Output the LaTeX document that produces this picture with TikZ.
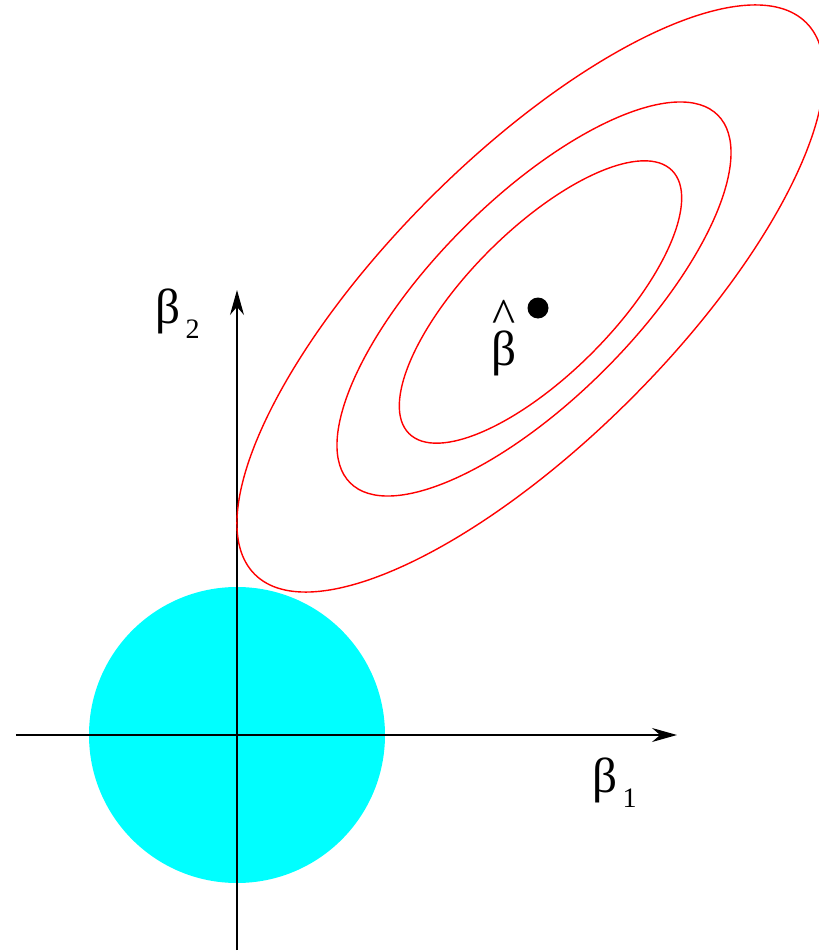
\documentclass[tikz,border=0pt]{standalone}
\usepackage{fontspec}
\setmainfont{Liberation Serif}
\usetikzlibrary{arrows.meta}
\definecolor{contorno}{HTML}{FF0000}
\definecolor{region}{HTML}{00FFFF}

\begin{document}
\begin{tikzpicture}[
    eje/.style={line width=0.8pt, draw=black, -{Stealth[length=5mm, width=2.8mm]}},
    nivel/.style={draw=contorno, line width=0.8pt},
    etiqueta/.style={font=\fontsize{28}{30}\selectfont, inner sep=0pt, anchor=base west}
  ]
  \useasboundingbox (-4.74,-4.34) rectangle (11.64,14.7);

  \coordinate (o) at (0,0);
  \coordinate (xmin) at (-4.42,0);
  \coordinate (xmax) at (8.8,0);
  \coordinate (ymin) at (0,-4.3);
  \coordinate (ymax) at (0,8.9);

  % region de restriccion
  \fill[region] (o) circle (2.96);

  \draw[eje] (xmin) -- (xmax);
  \draw[eje] (ymin) -- (ymax);

  % curvas de nivel
  \foreach \cx/\cy/\ra/\rb in {5.87/8.73/7.8/2.84, 5.94/8.72/5.2/2.0, 6.07/8.66/3.72/1.45} {
    \draw[nivel] (\cx,\cy) ellipse[x radius=\ra, y radius=\rb, rotate=45];
  }

  \node[circle, fill=black, inner sep=0pt, minimum size=0.42cm] (bhat) at (6.02,8.54) {};

  \node[etiqueta, anchor=base] (lbhat) at (5.34,7.4) {\shortstack{\textasciicircum\\[-4pt]β}};
  \node[etiqueta] (lb2) at (-1.64,8.22) {β\kern3pt\raisebox{-0.3cm}{\fontsize{16}{18}\selectfont 2}};
  \node[etiqueta] (lb1) at (7.10,-1.14) {β\kern3pt\raisebox{-0.3cm}{\fontsize{16}{18}\selectfont 1}};
\end{tikzpicture}
\end{document}
